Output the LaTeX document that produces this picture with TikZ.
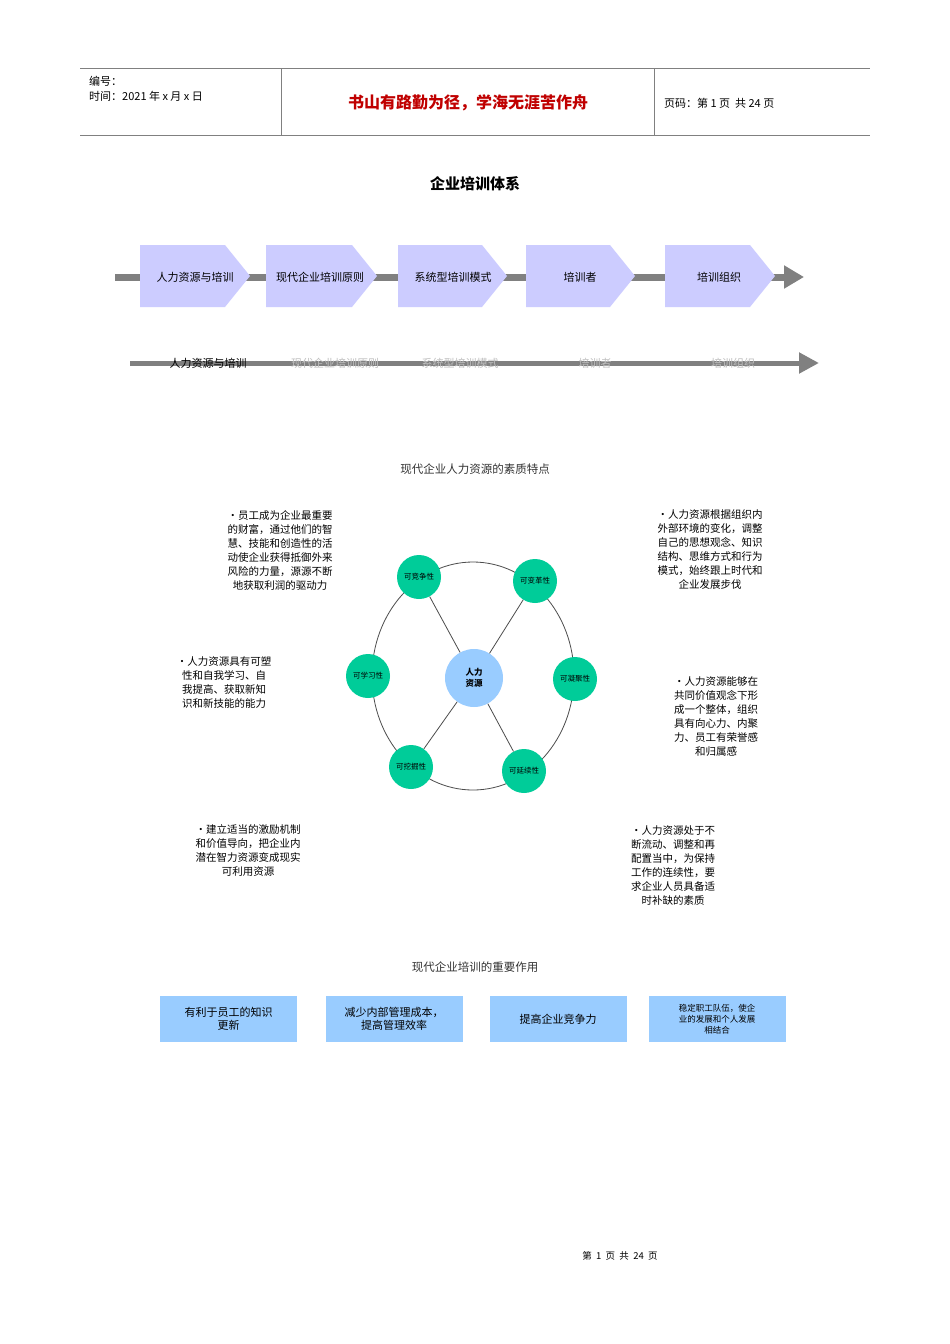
\documentclass[tikz,border=0pt]{standalone}
\usepackage{fontspec}
\setmainfont{Noto Sans CJK SC}
\usetikzlibrary{arrows.meta}
\definecolor{chev}{HTML}{CCCCFF}
\definecolor{gbar}{HTML}{808080}
\definecolor{grn}{HTML}{00CC99}
\definecolor{lblue}{HTML}{99CCFF}
\definecolor{redt}{HTML}{C00000}
\tikzset{
  para/.style={align=center,font=\fontsize{10.5}{14}\selectfont,inner sep=0pt},
  outer/.style={circle,fill=grn,minimum size=44pt,inner sep=0pt,font=\fontsize{7.5}{9}\selectfont},
  gbox/.style={fill=lblue,minimum width=137pt,minimum height=46pt,align=center,font=\fontsize{11}{13}\selectfont,inner sep=2pt},
  chevt/.style={font=\fontsize{11}{13}\selectfont,inner sep=0pt},
  faint/.style={chevt,text=black!25}
}
\begin{document}
\begin{tikzpicture}[x=1pt,y=-1pt]
\useasboundingbox[fill=white] (0,0) rectangle (950,1344);
% header
\draw[gray] (80,68) -- (870,68);
\draw[gray] (80,135) -- (870,135);
\draw[gray] (281,68) -- (281,135);
\draw[gray] (654,68) -- (654,135);
\node[anchor=west,align=left,font=\fontsize{11}{15}\selectfont,inner sep=0pt] (hdr) at (89,89) {编号：\\时间：2021 年 x 月 x 日};
\node[text=redt,font=\bfseries\fontsize{16}{18}\selectfont] (motto) at (468,103) {书山有路勤为径，学海无涯苦作舟};
\node[anchor=west,font=\fontsize{11}{13}\selectfont,inner sep=0pt] (pg) at (664,103) {页码：第 1 页\ \ 共 24 页};
\node[font=\bfseries\fontsize{15}{17}\selectfont] (title) at (475,184) {企业培训体系};
% row 1
\coordinate (b1s) at (115,277); \coordinate (b1e) at (804,277);
\draw[gbar,line width=7pt,-{Triangle[length=20pt,width=22pt]}] (b1s) -- (b1e);
\foreach \a/\b/\t/\n in {140/225/人力资源与培训/c1,266/352/现代企业培训原则/c2,398/482/系统型培训模式/c3,526/610/培训者/c4,665/750/培训组织/c5}{
  \fill[chev] (\a,245) -- (\b,245) -- (\b+25,276) -- (\b,307) -- (\a,307) -- cycle;
}
\node[chevt] (t1) at (195,277) {人力资源与培训};
\node[chevt] (t2) at (320,277) {现代企业培训原则};
\node[chevt] (t3) at (453,277) {系统型培训模式};
\node[chevt] (t4) at (580,277) {培训者};
\node[chevt] (t5) at (719,277) {培训组织};
% row 2
\coordinate (b2s) at (130,363); \coordinate (b2e) at (819,363);
\draw[gbar,line width=5pt,-{Triangle[length=20pt,width=20pt]}] (b2s) -- (b2e);
\node[chevt] (u1) at (208,363) {人力资源与培训};
\node[faint] (u2) at (335,363) {现代企业培训原则};
\node[faint] (u3) at (460,363) {系统型培训模式};
\node[faint] (u4) at (595,363) {培训者};
\node[faint] (u5) at (733,363) {培训组织};
% section title
\node[font=\fontsize{11.5}{13}\selectfont,text=black!80] (s1) at (475,469) {现代企业人力资源的素质特点};
% ring
\draw[black!70,thick] (473,676) ellipse (101 and 114);
\node[circle,fill=lblue,minimum size=58pt,inner sep=0pt,align=center,font=\bfseries\fontsize{8.5}{11}\selectfont] (hr) at (474,678) {人力\\资源};
\node[outer] (o1) at (419,577) {可竞争性};
\node[outer] (o2) at (535,581) {可变革性};
\node[outer] (o3) at (368,676) {可学习性};
\node[outer] (o4) at (575,679) {可凝聚性};
\node[outer] (o5) at (411,767) {可挖掘性};
\node[outer] (o6) at (524,771) {可延续性};
\foreach \o in {o1,o2,o5,o6}{\draw[black!70,thick] (hr) -- (\o);}
% paragraphs
\node[para] (p1) at (280,550) {•员工成为企业最重要\\的财富，通过他们的智\\慧、技能和创造性的活\\动使企业获得抵御外来\\风险的力量，源源不断\\地获取利润的驱动力};
\node[para] (p2) at (710,550) {•人力资源根据组织内\\外部环境的变化，调整\\自己的思想观念、知识\\结构、思维方式和行为\\模式，始终跟上时代和\\企业发展步伐};
\node[para] (p3) at (224,683) {•人力资源具有可塑\\性和自我学习、自\\我提高、获取新知\\识和新技能的能力};
\node[para] (p4) at (716,717) {•人力资源能够在\\共同价值观念下形\\成一个整体，组织\\具有向心力、内聚\\力、员工有荣誉感\\和归属感};
\node[para] (p5) at (248,850) {•建立适当的激励机制\\和价值导向，把企业内\\潜在智力资源变成现实\\可利用资源};
\node[para] (p6) at (673,866) {•人力资源处于不\\断流动、调整和再\\配置当中，为保持\\工作的连续性，要\\求企业人员具备适\\时补缺的素质};
% section 2
\node[font=\fontsize{11.5}{13}\selectfont,text=black!80] (s2) at (475,967) {现代企业培训的重要作用};
\node[gbox] (g1) at (228.5,1019) {有利于员工的知识\\更新};
\node[gbox] (g2) at (394,1019) {减少内部管理成本，\\提高管理效率};
\node[gbox] (g3) at (558,1019) {提高企业竞争力};
\node[gbox,font=\fontsize{8.5}{11}\selectfont] (g4) at (717,1019) {稳定职工队伍，使企\\业的发展和个人发展\\相结合};
% footer
\node[font=\fontsize{9.5}{11}\selectfont] (ft) at (620,1256) {第\ \ 1\ \ 页\ \ 共\ \ 24\ \ 页};
\end{tikzpicture}
\end{document}
